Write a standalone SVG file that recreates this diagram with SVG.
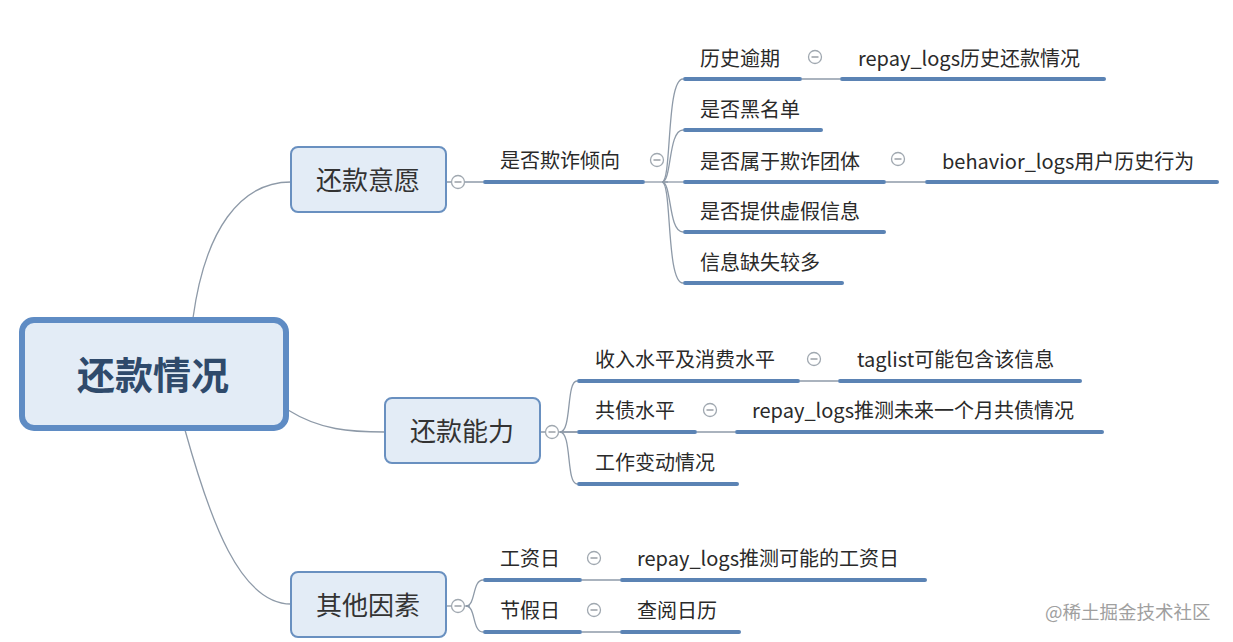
<svg xmlns="http://www.w3.org/2000/svg" width="1233" height="642" viewBox="0 0 1233 642">
<style>
.conn{fill:none;stroke:#8e9aa8;stroke-width:1.3}
.ul{stroke:#5b83b4;stroke-width:4;stroke-linecap:round}
.box{fill:#e3ecf6;stroke:#6990c0;stroke-width:2}
.root{fill:#e3ecf6;stroke:#5f8cc4;stroke-width:6}
.t{font-family:"Noto Sans CJK SC","Liberation Sans",sans-serif;font-size:20px;fill:#2a2a2a}
.bt{font-family:"Noto Sans CJK SC","Liberation Sans",sans-serif;font-size:26px;fill:#333;text-anchor:middle}
.rt{font-family:"Noto Sans CJK SC","Liberation Sans",sans-serif;font-size:38px;font-weight:bold;fill:#2f4a6b;text-anchor:middle}
.col circle{fill:#fff;stroke:#a0a8b0;stroke-width:1.3}
.col line{stroke:#8a9098;stroke-width:1.3}
.wm{font-family:"Noto Sans CJK SC","Liberation Sans",sans-serif;font-size:18.5px;fill:#a0a0a0}
</style>
<defs>
<g id="minus" class="col"><circle cx="0" cy="0" r="6.5"/><line x1="-3.5" y1="0" x2="3.5" y2="0"/></g>
</defs>
<rect width="1233" height="642" fill="#fff"/>
<g id="connectors">
<path class="conn" d="M193 318 C205 230 240 182 291 182"/>
<path class="conn" d="M288 410 C320 430 350 432 385 432"/>
<path class="conn" d="M185 430 C210 520 240 604 291 604"/>
<path class="conn" d="M446 182 H483"/>
<path class="conn" d="M540 432 H577"/>
<path class="conn" d="M446 606 H470"/>
<path class="conn" d="M645 182 H668"/>
<path class="conn" d="M662 182 C672 182 666 79 683 79"/>
<path class="conn" d="M662 182 C672 182 668 130 683 130"/>
<path class="conn" d="M662 182 H683"/>
<path class="conn" d="M662 182 C672 182 668 232 683 232"/>
<path class="conn" d="M662 182 C672 182 666 283 683 283"/>
<path class="conn" d="M802 79 H840"/>
<path class="conn" d="M886 182 H925"/>
<path class="conn" d="M560 432 C572 432 566 381 577 381"/>
<path class="conn" d="M560 432 H577"/>
<path class="conn" d="M560 432 C572 432 566 484 577 484"/>
<path class="conn" d="M800 381 H838"/>
<path class="conn" d="M697 432 H735"/>
<path class="conn" d="M466 606 C476 606 472 580 483 580"/>
<path class="conn" d="M466 606 C476 606 472 632 483 632"/>
<path class="conn" d="M582 580 H620"/>
<path class="conn" d="M582 632 H620"/>
</g>
<g id="root"><rect class="root" x="22" y="320" width="264" height="108" rx="12"/><text class="rt" x="153" y="389">还款情况</text></g>
<g id="n-yiyuan"><rect class="box" x="291" y="147" width="155" height="65" rx="7"/><text class="bt" x="368" y="190">还款意愿</text><use href="#minus" x="458" y="182"/></g>
<g id="n-nengli"><rect class="box" x="385" y="398" width="155" height="65" rx="7"/><text class="bt" x="462" y="441">还款能力</text><use href="#minus" x="552" y="432"/></g>
<g id="n-qita"><rect class="box" x="291" y="572" width="155" height="65" rx="7"/><text class="bt" x="368" y="615">其他因素</text><use href="#minus" x="458" y="606"/></g>
<g id="n-qizha"><line class="ul" x1="485" y1="182" x2="643" y2="182"/><text class="t" x="500" y="168">是否欺诈倾向</text><use href="#minus" x="657" y="160"/></g>
<g id="n-lishi"><line class="ul" x1="685" y1="79" x2="800" y2="79"/><text class="t" x="700" y="66">历史逾期</text><use href="#minus" x="815" y="57"/></g>
<g id="n-repay1"><line class="ul" x1="842" y1="79" x2="1104" y2="79"/><text class="t" x="858" y="66">repay_logs历史还款情况</text></g>
<g id="n-heimingdan"><line class="ul" x1="685" y1="130" x2="821" y2="130"/><text class="t" x="700" y="117">是否黑名单</text></g>
<g id="n-tuanti"><line class="ul" x1="685" y1="182" x2="884" y2="182"/><text class="t" x="700" y="169">是否属于欺诈团体</text><use href="#minus" x="898" y="159"/></g>
<g id="n-behavior"><line class="ul" x1="927" y1="182" x2="1217" y2="182"/><text class="t" x="942" y="169">behavior_logs用户历史行为</text></g>
<g id="n-xujia"><line class="ul" x1="685" y1="232" x2="884" y2="232"/><text class="t" x="700" y="219">是否提供虚假信息</text></g>
<g id="n-queshi"><line class="ul" x1="685" y1="283" x2="842" y2="283"/><text class="t" x="700" y="270">信息缺失较多</text></g>
<g id="n-shouru"><line class="ul" x1="579" y1="381" x2="798" y2="381"/><text class="t" x="595" y="367">收入水平及消费水平</text><use href="#minus" x="814" y="359"/></g>
<g id="n-taglist"><line class="ul" x1="840" y1="381" x2="1080" y2="381"/><text class="t" x="857" y="367">taglist可能包含该信息</text></g>
<g id="n-gongzhai"><line class="ul" x1="579" y1="432" x2="695" y2="432"/><text class="t" x="595" y="418">共债水平</text><use href="#minus" x="710" y="410"/></g>
<g id="n-repay2"><line class="ul" x1="737" y1="432" x2="1102" y2="432"/><text class="t" x="752" y="418">repay_logs推测未来一个月共债情况</text></g>
<g id="n-gongzuo"><line class="ul" x1="579" y1="484" x2="737" y2="484"/><text class="t" x="595" y="470">工作变动情况</text></g>
<g id="n-gongziri"><line class="ul" x1="485" y1="580" x2="580" y2="580"/><text class="t" x="500" y="566">工资日</text><use href="#minus" x="594" y="558"/></g>
<g id="n-repay3"><line class="ul" x1="622" y1="580" x2="925" y2="580"/><text class="t" x="637" y="566">repay_logs推测可能的工资日</text></g>
<g id="n-jiajiari"><line class="ul" x1="485" y1="632" x2="580" y2="632"/><text class="t" x="500" y="618">节假日</text><use href="#minus" x="594" y="610"/></g>
<g id="n-rili"><line class="ul" x1="622" y1="632" x2="739" y2="632"/><text class="t" x="637" y="618">查阅日历</text></g>
<text class="wm" x="1045" y="619">@稀土掘金技术社区</text>
</svg>
